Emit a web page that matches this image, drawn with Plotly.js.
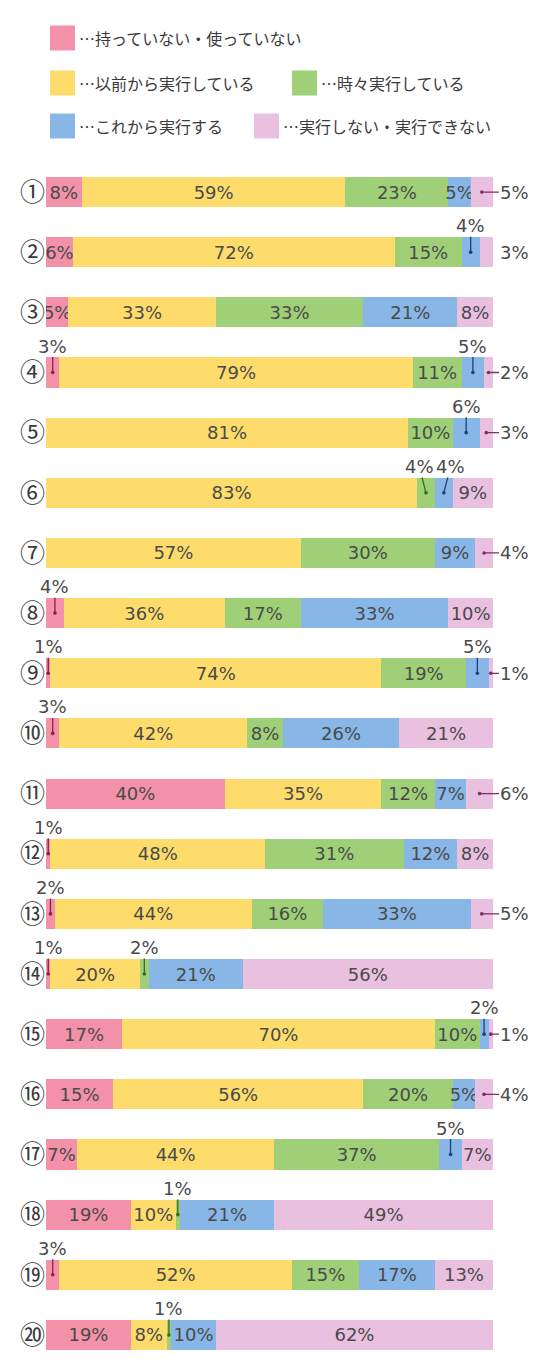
<!DOCTYPE html>
<html>
<head>
<meta charset="utf-8">
<script src="https://cdn.plot.ly/plotly-3.0.1.min.js"></script>
<style>html,body{margin:0;padding:0;background:#fff;}#chart{width:534px;height:1358px;}</style>
</head>
<body>
<div id="chart"></div>
<script>
// ---- data ----
const rows = [1,2,3,4,5,6,7,8,9,10,11,12,13,14,15,16,17,18,19,20];
const rowLabels = ['①','②','③','④','⑤','⑥','⑦','⑧','⑨','⑩','⑪','⑫','⑬','⑭','⑮','⑯','⑰','⑱','⑲','⑳'];
const seriesNames = ['…持っていない・使っていない','…以前から実行している','…時々実行している','…これから実行する','…実行しない・実行できない'];
const notOwned    = [8,6,5,3,0,0,0,4,1,3,40,1,2,1,17,15,7,19,3,19];
const doingBefore = [59,72,33,79,81,83,57,36,74,42,35,48,44,20,70,56,44,10,52,8];
const sometimes   = [23,15,33,11,10,4,30,17,19,8,12,31,16,2,10,20,37,1,15,1];
const fromNow     = [5,4,21,5,6,4,9,33,5,26,7,12,33,21,2,5,5,21,17,10];
const wontDo      = [5,3,8,2,3,9,4,10,1,21,6,8,5,56,1,4,7,49,13,62];
// labels drawn outside the bar: [row, series index]
const upCallouts = [[2,3],[4,0],[4,3],[5,3],[6,2],[6,3],[8,0],[9,0],[9,3],[10,0],[12,0],[13,0],[14,0],[14,2],[15,3],[17,3],[18,2],[19,0],[20,2]];
const rightCallouts = [[1,4],[4,4],[5,4],[7,4],[9,4],[11,4],[13,4],[15,4],[16,4]];
const rightPlain = [[2,4]];

// ---- styles ----
const series = [notOwned, doingBefore, sometimes, fromNow, wontDo];
const colors = ['#f291a8','#fddc6c','#9fd077','#88b6e6','#e9c0e0'];
const darkColors = ['#8b2040','#8a6a00','#3a6a20','#1d3f7a','#7a3060'];
const labelFont = {family:'DejaVu Sans, sans-serif', size:18, color:'#4a4a4a'};
const jpFont = 'Noto Sans CJK JP, sans-serif';

const isOutside = (r, s) =>
  upCallouts.concat(rightCallouts, rightPlain).some(c => c[0] === r && c[1] === s);

const traces = series.map((vals, s) => ({
  type:'bar', orientation:'h', name: seriesNames[s],
  y: rows, x: vals,
  marker:{color: colors[s], line:{width:0}},
  text: vals.map((v, i) => (v > 0 && !isOutside(rows[i], s)) ? v + '%' : ''),
  textposition:'inside', insidetextanchor:'middle', textangle:0,
  constraintext:'none',
  textfont: labelFont,
  hoverinfo:'skip', showlegend:false
}));

function segCenter(r, s) {
  const i = rows.indexOf(r);
  let start = 0;
  for (let k = 0; k < s; k++) start += series[k][i];
  return start + series[s][i] / 2;
}
function val(r, s) { return series[s][rows.indexOf(r)]; }

// plot geometry (pixels) for paper-referenced items
const plotL = 46, plotW = 447, plotB = 1356, plotH = 1188;
const px2x = px => (px - plotL) / plotW;
const px2y = py => (plotB - py) / plotH;

const annotations = [];
// up callouts: spread text apart when two on the same row are too close
const minGap = 7; // in x units
const upItems = upCallouts.map(([r, s]) => ({r, s, xc: segCenter(r, s), tx: segCenter(r, s)}));
rows.forEach(r => {
  const its = upItems.filter(it => it.r === r).sort((a, b) => a.xc - b.xc);
  for (let k = 1; k < its.length; k++) {
    const d = its[k].tx - its[k-1].tx;
    if (d < minGap) { const sh = (minGap - d) / 2; its[k-1].tx -= sh; its[k].tx += sh; }
  }
});
upItems.forEach(it => {
  annotations.push({
    x: it.xc, y: it.r, xref:'x', yref:'y', axref:'x', ayref:'y', ax: it.tx, ay: it.r - 0.44,
    text: val(it.r, it.s) + '%', font: labelFont, showarrow:true,
    arrowhead:6, arrowsize:0.7, arrowwidth:1.3, arrowcolor: darkColors[it.s],
    borderpad:0, standoff:0
  });
});
rightCallouts.forEach(([r, s]) => {
  const xc = segCenter(r, s);
  annotations.push({
    x: xc, y: r, xref:'x', yref:'y', axref:'x', ayref:'y', ax: 104.7, ay: r,
    text: val(r, s) + '%', font: labelFont, showarrow:true,
    arrowhead:6, arrowsize:0.7, arrowwidth:1.3, arrowcolor: darkColors[s],
    borderpad:0, standoff:0
  });
});
rightPlain.forEach(([r, s]) => {
  annotations.push({
    x: px2x(plotL + 104.7 * plotW / 100), y: r, xref:'paper', yref:'y', text: val(r, s) + '%',
    xanchor:'center', font: labelFont, showarrow:false
  });
});

// ---- legend (drawn with shapes + text) ----
const legendItems = [
  {s:0, x:50, y:38},
  {s:1, x:50, y:83},
  {s:2, x:292, y:83},
  {s:3, x:50, y:126},
  {s:4, x:254, y:126}
];
const shapes = [];
legendItems.forEach(it => {
  shapes.push({type:'rect', xref:'paper', yref:'paper',
    x0: px2x(it.x), x1: px2x(it.x + 25), y0: px2y(it.y + 12.5), y1: px2y(it.y - 12.5),
    fillcolor: colors[it.s], line:{width:0}});
  annotations.push({xref:'paper', yref:'paper', x: px2x(it.x + 27), y: px2y(it.y),
    xanchor:'left', yanchor:'middle', showarrow:false, text: seriesNames[it.s],
    font:{family: jpFont, size:16, color:'#3a3a3a'}});
});

const layout = {
  width:534, height:1358,
  margin:{l:46, r:41, t:168, b:2},
  barmode:'stack', bargap:0.5,
  paper_bgcolor:'#fff', plot_bgcolor:'#fff',
  uniformtext:{mode:'show', minsize:18},
  xaxis:{range:[0,100], showgrid:false, zeroline:false, showticklabels:false, showline:false, fixedrange:true},
  yaxis:{range:[20.35,0.6], tickvals: rows, ticktext: rowLabels, showgrid:false, zeroline:false, showline:false,
         ticks:'', tickfont:{family: jpFont, size:25, color:'#3a3a3a'}, fixedrange:true},
  annotations, shapes, showlegend:false
};
Plotly.newPlot('chart', traces, layout, {staticPlot:true, displayModeBar:false});
</script>
</body>
</html>
